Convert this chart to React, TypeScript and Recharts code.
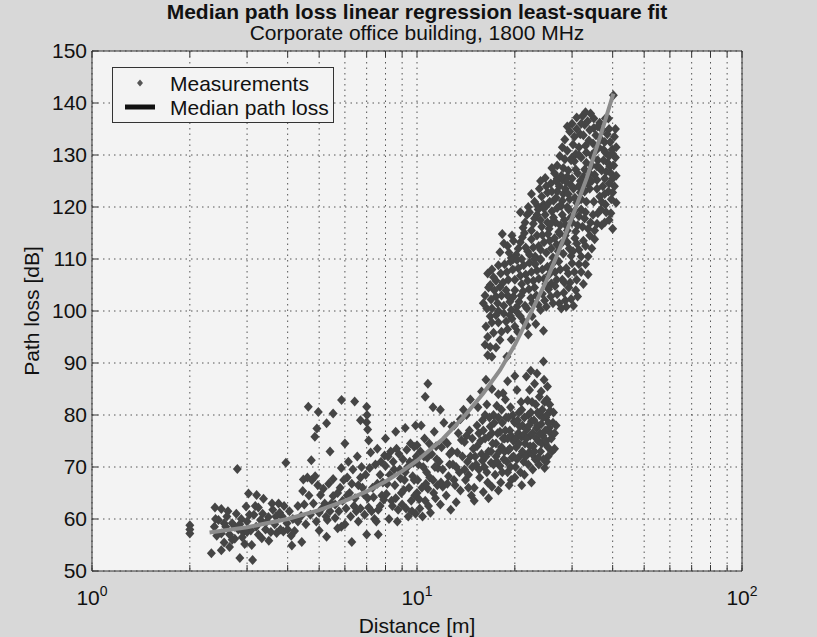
import { CartesianGrid, Legend, Scatter, ScatterChart, XAxis, YAxis } from "recharts"

const nearField: [number, number][] = [
  [2.0, 58.8], [2.0, 57.2], [2.0, 58.0], [2.33, 53.4], [2.39, 62.2], [2.5, 61.9], [2.38, 58.5], [2.42, 56.8],
  [2.45, 59.8], [2.5, 57.2], [2.55, 55.5], [2.58, 58.5], [2.6, 60.5], [2.65, 57.0], [2.65, 54.6], [2.7, 59.2],
  [2.75, 56.2], [2.78, 61.0], [2.8, 69.6], [2.82, 58.0], [2.85, 52.5], [2.88, 60.0], [2.92, 57.5], [2.95, 55.2],
  [2.98, 62.4], [3.0, 59.5], [3.03, 64.9], [3.08, 57.8], [3.12, 52.1], [3.15, 60.8], [3.2, 58.5], [3.21, 64.6],
  [3.25, 62.2], [3.3, 59.8], [3.33, 56.3], [3.37, 63.9], [3.42, 58.0], [3.49, 60.4], [3.55, 57.5], [3.6, 61.8],
  [3.65, 59.0], [3.7, 57.3], [3.75, 63.0], [3.8, 58.0], [3.85, 60.5], [3.88, 57.6], [3.95, 70.8], [3.98, 59.2],
  [4.05, 61.5], [4.1, 56.8],
  [2.4, 60.0], [2.5, 54.0], [2.55, 59.2], [2.62, 61.5], [2.7, 56.0], [2.75, 58.5], [2.85, 59.0], [2.9, 56.5],
  [3.0, 57.5], [3.05, 60.8], [3.1, 55.0], [3.18, 62.5], [3.25, 57.0], [3.35, 61.0], [3.45, 59.5], [3.5, 55.8],
  [3.58, 63.0], [3.68, 60.5], [3.78, 61.2], [3.9, 62.5], [4.0, 58.0], [4.15, 60.0],
]

const midRange: [number, number][] = [
  [4.2, 57.7], [4.12, 54.9], [4.42, 55.6], [4.4, 60.6], [4.3, 62.5], [4.45, 65.4], [4.47, 67.6], [4.6, 68.0],
  [4.75, 67.5], [4.86, 68.2], [4.73, 71.3], [4.63, 81.6], [4.97, 80.6], [4.92, 77.4], [4.85, 75.8], [5.27, 78.4],
  [5.52, 80.3], [5.86, 82.9], [6.43, 82.6], [7.0, 81.6], [7.02, 80.0], [7.0, 78.6], [6.7, 79.0], [7.05, 77.2],
  [7.1, 75.1], [4.55, 59.0], [4.7, 60.8], [4.9, 59.5], [5.0, 61.2], [5.05, 64.6], [5.1, 62.0], [5.2, 63.0],
  [5.27, 56.6], [5.3, 59.8], [5.4, 61.5], [5.52, 64.4], [5.52, 67.7], [5.6, 62.8], [5.7, 58.2], [5.8, 66.0],
  [5.85, 69.8], [5.9, 63.5], [5.95, 67.5], [6.0, 59.0], [6.1, 68.0], [6.15, 71.0], [6.2, 65.0], [6.3, 55.6],
  [6.35, 69.5], [6.4, 62.5], [6.5, 61.5], [6.55, 72.0], [6.6, 66.5], [6.7, 62.0], [6.75, 70.0], [6.85, 64.8],
  [6.95, 68.5], [7.0, 57.0], [7.1, 62.2], [7.2, 72.8], [7.3, 66.0], [7.4, 60.0], [7.5, 59.5], [7.55, 73.5],
  [7.6, 57.0], [7.6, 61.8], [7.7, 68.5], [7.8, 64.5], [7.9, 63.7], [7.95, 72.2], [8.0, 70.2], [8.1, 66.8],
  [8.2, 60.0], [8.3, 73.0], [8.4, 62.5], [8.5, 69.5], [8.6, 64.0], [8.7, 59.5], [8.8, 72.5], [8.9, 67.8],
  [9.0, 62.8], [9.1, 65.6], [9.2, 69.0], [9.3, 73.3], [9.4, 60.5], [9.5, 71.0], [9.6, 63.5], [9.7, 68.2],
  [9.8, 67.5], [9.8, 73.9], [9.9, 61.0], [10.0, 65.0], [10.0, 74.2], [10.1, 70.5], [8.0, 75.5], [8.6, 76.8],
  [9.2, 77.5], [9.9, 78.0], [6.0, 74.5], [5.4, 73.0],
  [4.3, 59.5], [4.5, 62.8], [4.65, 64.5], [4.8, 63.0], [4.95, 66.5], [5.0, 57.8], [5.15, 65.8], [5.25, 60.5],
  [5.35, 66.8], [5.45, 63.0], [5.6, 60.2], [5.7, 65.0], [5.75, 61.5], [5.85, 58.5], [6.05, 62.0], [6.1, 64.5],
  [6.25, 60.5], [6.3, 66.8], [6.45, 64.0], [6.6, 59.5], [6.7, 68.0], [6.8, 66.0], [6.9, 60.8], [7.05, 64.0],
  [7.15, 69.8], [7.25, 61.5], [7.35, 64.2], [7.45, 70.5], [7.55, 66.8], [7.7, 62.5], [7.75, 71.0], [7.85, 67.0],
  [8.05, 64.8], [8.15, 72.0], [8.25, 68.5], [8.35, 63.5], [8.45, 71.0], [8.55, 66.5], [8.65, 73.5], [8.75, 61.8],
  [8.85, 69.5], [8.95, 65.0], [9.05, 71.5], [9.15, 67.5], [9.25, 62.0], [9.35, 70.0], [9.45, 66.0], [9.55, 74.5],
  [9.65, 61.5], [9.75, 70.8], [9.85, 64.5], [9.95, 72.0],
]

const lowerBranch: [number, number][] = [
  [10.2, 62.0], [10.4, 60.5], [10.6, 63.5], [10.8, 65.8], [11.0, 61.2], [11.2, 67.5], [11.4, 64.0], [11.6, 69.8],
  [11.8, 62.8], [12.0, 66.2], [10.5, 72.0], [10.9, 74.5], [11.3, 76.8], [11.5, 71.5], [11.9, 73.8], [10.6, 83.5],
  [10.8, 86.0], [11.2, 81.5], [11.8, 81.0], [10.3, 78.0], [10.7, 69.0], [12.1, 78.5],
  [10.05, 67.5], [10.15, 63.8], [10.25, 73.0], [10.35, 66.0], [10.45, 70.0], [10.55, 75.5], [10.65, 66.8],
  [10.75, 71.8], [10.85, 62.5], [10.95, 68.0], [11.1, 72.5], [11.25, 65.0], [11.35, 70.0], [11.45, 74.0],
  [11.55, 66.5], [11.7, 71.0], [11.85, 67.0], [12.0, 69.5], [12.2, 75.0], [12.4, 66.8], [12.6, 70.5], [12.8, 73.0],
  [13.0, 67.5], [13.2, 70.0], [13.4, 76.5], [13.6, 65.5], [13.8, 72.0], [14.0, 69.5], [14.2, 76.0], [14.4, 66.0],
  [14.6, 72.0], [14.8, 75.5],
  [12.3, 64.5], [12.5, 68.2], [12.7, 61.8], [12.9, 70.5], [13.1, 66.5], [13.3, 72.8], [13.5, 69.0], [13.7, 75.2],
  [13.9, 81.0], [14.1, 67.5], [14.3, 71.0], [14.5, 77.0], [14.7, 64.5], [14.9, 73.5], [12.4, 74.5], [12.8, 77.8],
  [13.2, 63.2], [13.6, 79.2], [14.0, 74.8], [14.4, 68.5], [14.8, 70.0], [15.0, 66.0], [12.6, 72.5],
  [15.2, 70.5], [15.3, 74.0], [15.5, 76.5], [15.6, 68.0], [15.8, 72.5], [15.9, 79.0], [16.1, 70.0], [16.2, 75.5],
  [16.4, 82.0], [16.5, 67.0], [16.6, 73.0], [16.8, 77.8], [16.9, 70.8], [17.1, 74.5], [17.2, 80.0], [17.4, 68.5],
  [17.5, 72.0], [17.7, 76.5], [17.8, 84.0], [18.0, 70.2], [18.2, 73.8], [18.3, 78.5], [16.0, 65.2], [17.0, 66.2],
  [18.1, 67.0], [15.4, 81.5], [16.3, 86.8], [17.6, 81.8], [18.4, 84.2],
  [18.5, 71.5], [18.6, 75.5], [18.8, 79.5], [19.0, 69.0], [19.1, 73.2], [19.3, 77.0], [19.4, 81.5], [19.6, 71.8],
  [19.8, 75.0], [19.9, 78.8], [20.1, 70.0], [20.2, 73.8], [20.3, 84.8], [20.5, 76.5], [20.6, 80.5], [20.8, 72.2],
  [21.0, 75.8], [21.1, 78.0], [19.2, 66.5], [20.0, 68.0], [20.9, 82.5], [18.7, 83.0],
  [21.3, 71.0], [21.5, 74.5], [21.7, 87.4], [21.8, 77.2], [22.0, 80.0], [22.1, 72.8], [22.3, 76.0], [22.5, 78.8],
  [22.6, 82.5], [22.8, 74.0], [23.0, 86.0], [23.1, 71.5], [23.3, 77.5], [23.5, 80.5], [23.6, 75.0], [23.8, 83.5],
  [24.0, 73.0], [24.1, 78.2], [21.4, 68.5], [22.7, 69.5], [23.7, 70.5], [22.2, 84.8],
  [24.3, 81.0], [24.5, 90.3], [24.4, 76.0], [24.6, 86.8], [24.8, 74.5], [24.9, 79.5], [25.1, 83.0], [25.3, 72.0],
  [25.5, 77.5], [25.7, 80.8], [25.9, 75.5], [26.2, 78.5], [26.5, 73.5], [24.7, 69.8], [25.2, 85.5], [25.0, 71.0],
  [15.1, 72.0], [15.3, 78.0], [15.5, 69.5], [15.7, 75.0], [15.9, 71.2], [16.0, 77.0], [16.2, 80.0], [16.3, 72.0],
  [16.4, 69.0], [16.6, 75.8], [16.7, 79.5], [16.9, 73.0], [17.0, 76.5], [17.2, 70.5], [17.3, 78.5], [17.5, 74.5],
  [17.6, 71.0], [17.8, 79.5], [17.9, 73.0], [18.0, 76.8], [18.2, 81.0], [18.3, 69.0], [18.4, 75.5], [18.6, 73.0],
  [18.7, 77.0], [18.9, 71.0], [19.0, 75.5], [19.1, 79.5], [19.3, 73.5], [19.4, 70.0], [19.5, 76.0], [19.7, 80.0],
  [19.8, 72.0], [20.0, 78.5], [20.1, 75.5], [20.3, 71.5], [20.4, 79.0], [20.6, 74.5], [20.7, 77.8], [20.8, 69.0],
  [21.0, 81.0], [21.1, 73.0], [21.3, 76.2], [21.4, 79.5], [21.6, 72.0], [21.7, 75.5], [21.9, 82.8], [22.0, 70.5],
  [22.1, 78.0], [22.3, 74.0], [22.4, 80.5], [22.6, 72.5], [22.7, 76.5], [22.9, 79.0], [23.0, 73.0], [23.2, 82.0],
  [23.3, 75.5], [23.5, 78.0], [23.6, 71.8], [23.8, 80.0], [23.9, 76.5], [24.1, 84.5], [24.2, 74.5], [24.4, 79.5],
  [24.5, 71.5], [24.7, 82.5], [24.8, 77.0], [25.0, 75.0], [25.1, 80.0], [25.3, 73.8], [25.4, 78.5], [25.6, 82.0],
  [25.8, 76.5], [26.0, 73.0], [26.3, 80.5], [26.5, 76.5], [26.8, 78.0], [15.0, 63.5], [16.6, 64.0], [17.8, 65.5],
  [19.5, 67.5], [21.0, 66.5], [22.5, 67.0], [13.0, 78.0], [14.2, 80.0], [14.6, 83.0], [15.8, 84.5], [17.0, 85.0],
  [19.0, 86.5], [20.0, 87.5], [22.4, 88.5], [23.4, 88.0],
]

const upperBranch: [number, number][] = [
  [40.2, 141.5], [31.0, 137.2], [32.3, 137.5], [33.5, 136.5], [35.0, 137.0], [36.5, 136.2], [38.0, 137.0],
  [30.0, 136.0], [34.2, 138.0], [29.0, 135.5], [30.5, 133.5], [31.8, 134.0], [32.8, 135.8], [33.0, 131.8],
  [34.5, 130.0], [35.5, 133.8], [36.2, 131.5], [37.2, 134.8], [37.8, 132.5], [39.0, 135.0], [39.8, 131.0],
  [40.8, 135.0], [28.0, 131.5], [30.0, 129.5], [35.0, 135.2], [33.0, 138.2], [38.8, 137.0],
  [28.5, 133.0], [29.5, 134.5], [30.2, 132.0], [31.0, 135.0], [31.5, 131.5], [32.5, 133.8], [33.2, 130.5],
  [34.0, 134.8], [34.8, 132.2], [35.5, 130.8], [36.8, 133.0], [37.5, 131.0], [38.5, 134.0], [39.3, 132.5],
  [40.5, 133.5], [41.0, 131.5], [29.0, 130.8], [30.8, 130.2], [32.0, 136.0], [33.8, 132.8], [36.0, 135.5],
  [38.0, 130.5], [40.0, 130.2],
  [24.8, 125.6], [27.0, 128.0], [27.8, 126.0], [28.5, 129.2], [29.2, 127.0], [30.0, 125.5], [30.5, 128.8],
  [31.2, 126.5], [32.0, 129.5], [32.8, 127.2], [33.5, 125.8], [34.5, 128.0], [35.2, 126.2], [36.0, 129.0],
  [37.0, 127.0], [37.8, 125.5], [38.6, 128.5], [39.5, 126.5], [40.3, 128.0], [41.0, 126.0], [28.0, 125.2],
  [31.8, 125.0], [35.8, 127.8], [26.5, 126.5], [39.0, 129.8],
  [27.5, 129.8], [28.2, 127.5], [29.0, 125.8], [29.8, 129.0], [30.8, 127.2], [31.5, 130.0], [32.5, 125.8],
  [33.2, 128.5], [34.0, 126.5], [34.8, 129.5], [35.8, 125.2], [36.5, 127.5], [37.5, 129.0], [38.2, 126.8],
  [39.2, 127.8], [40.0, 125.5], [40.8, 129.5], [26.0, 127.5], [27.0, 125.5],
  [23.0, 121.0], [23.8, 123.5], [24.5, 120.5], [25.2, 122.8], [25.8, 124.5], [26.3, 121.2], [27.0, 123.0],
  [27.6, 120.3], [28.2, 122.5], [28.8, 124.8], [29.5, 121.5], [30.3, 123.5], [31.0, 120.8], [31.8, 122.8],
  [32.5, 124.2], [33.2, 121.0], [36.5, 122.0], [37.3, 124.0], [38.0, 120.5], [38.8, 123.0], [39.6, 121.5],
  [40.5, 124.0], [41.0, 120.8], [24.0, 125.0], [26.8, 125.0], [29.0, 120.0], [34.0, 123.5],
  [23.5, 120.2], [24.2, 122.0], [25.0, 124.0], [25.6, 121.0], [26.0, 123.0], [26.8, 121.8], [27.4, 124.0],
  [28.0, 121.2], [28.6, 123.5], [29.2, 122.5], [29.8, 124.2], [30.6, 121.8], [31.4, 124.0], [32.0, 121.5],
  [32.8, 123.0], [33.5, 124.5], [35.0, 121.0], [35.8, 123.5], [37.0, 121.0], [37.8, 122.5], [39.0, 124.5],
  [40.0, 122.8], [22.5, 122.5], [34.5, 125.0],
  [21.2, 116.0], [21.8, 118.5], [22.5, 115.5], [23.0, 117.8], [23.6, 119.5], [24.2, 116.2], [24.8, 118.5],
  [25.5, 115.8], [26.0, 119.2], [26.7, 117.0], [27.3, 115.2], [28.0, 118.5], [28.7, 116.5], [29.3, 119.5],
  [30.0, 117.0], [30.8, 115.3], [31.5, 118.2], [32.3, 116.2], [33.0, 119.0], [34.2, 117.0], [35.2, 115.5],
  [36.0, 118.8], [37.0, 116.5], [38.2, 119.0], [39.0, 117.5], [40.0, 115.8], [22.0, 120.0], [25.0, 120.2],
  [27.8, 120.2],
  [21.5, 117.0], [22.2, 119.0], [22.8, 116.8], [23.4, 118.5], [24.0, 117.5], [24.5, 119.8], [25.2, 117.0],
  [25.8, 116.8], [26.3, 118.0], [27.0, 119.8], [27.6, 116.5], [28.4, 117.5], [29.0, 115.5], [29.7, 118.0],
  [30.5, 119.2], [31.2, 116.5], [32.0, 119.5], [32.8, 117.8], [33.6, 115.8], [34.8, 118.5], [35.8, 116.8],
  [36.8, 119.5], [37.8, 117.0], [39.5, 118.8], [20.8, 119.0],
  [18.0, 111.3], [19.0, 112.5], [19.6, 114.5], [20.2, 110.8], [20.8, 113.2], [21.4, 115.0], [21.9, 111.5],
  [22.5, 113.8], [23.1, 110.5], [23.7, 112.5], [24.3, 114.6], [25.0, 111.2], [25.6, 113.5], [26.2, 110.3],
  [26.9, 112.8], [27.5, 114.8], [28.2, 111.0], [29.0, 113.2], [29.8, 110.6], [30.6, 114.0], [31.5, 111.8],
  [32.5, 113.5], [33.6, 110.5], [34.5, 112.0], [19.5, 110.2], [21.0, 110.0], [24.0, 110.0],
  [18.5, 113.0], [19.2, 111.2], [19.8, 113.5], [20.5, 112.0], [21.1, 114.2], [21.6, 112.2], [22.2, 110.8],
  [22.8, 112.2], [23.4, 114.5], [24.0, 111.8], [24.6, 113.2], [25.3, 114.8], [25.9, 112.0], [26.5, 114.0],
  [27.2, 111.5], [27.8, 113.0], [28.6, 114.5], [29.4, 112.0], [30.2, 111.5], [31.0, 113.0], [32.0, 110.5],
  [33.0, 112.5], [34.0, 114.5], [18.3, 114.8], [35.2, 113.8],
  [17.2, 106.5], [17.8, 108.8], [18.4, 105.5], [18.9, 107.5], [19.4, 109.5], [20.0, 106.0], [20.5, 108.2],
  [21.0, 105.2], [21.6, 107.0], [22.2, 109.3], [22.8, 105.8], [23.4, 107.8], [24.0, 109.8], [24.6, 106.2],
  [25.2, 108.5], [25.9, 105.3], [26.6, 107.5], [27.3, 109.5], [28.0, 106.0], [28.8, 108.2], [29.6, 105.5],
  [30.5, 107.5], [31.5, 109.0], [33.6, 107.0], [32.5, 105.2], [16.8, 105.0], [19.8, 110.0], [23.0, 110.0],
  [17.0, 108.0], [17.5, 105.8], [18.1, 107.2], [18.6, 109.0], [19.1, 106.0], [19.7, 108.0], [20.3, 109.8],
  [20.8, 106.8], [21.3, 108.8], [21.9, 105.8], [22.5, 107.5], [23.1, 109.0], [23.7, 106.2], [24.3, 108.0],
  [24.9, 105.2], [25.5, 107.0], [26.2, 109.2], [26.9, 106.0], [27.6, 108.0], [28.4, 105.5], [29.2, 107.2],
  [30.0, 109.2], [31.0, 106.0], [32.0, 107.5], [16.5, 107.2], [33.0, 109.0],
  [16.0, 101.5], [16.2, 103.0], [16.6, 104.5], [17.0, 100.5], [17.5, 102.8], [18.0, 104.6], [18.5, 101.0],
  [19.0, 103.0], [19.5, 100.2], [20.0, 104.0], [20.6, 101.8], [21.2, 103.8], [21.8, 100.5], [22.4, 102.5],
  [23.0, 104.5], [23.6, 101.2], [24.3, 103.3], [25.0, 100.8], [25.8, 102.8], [26.6, 104.8], [27.4, 101.5],
  [28.3, 103.5], [28.8, 100.8], [29.8, 102.3], [30.8, 104.0], [17.8, 100.0], [20.3, 99.8],
  [16.4, 100.5], [16.9, 102.2], [17.3, 104.0], [17.7, 101.5], [18.2, 103.0], [18.8, 104.0], [19.3, 101.8],
  [19.8, 102.8], [20.3, 100.8], [20.9, 103.0], [21.5, 101.0], [22.1, 104.2], [22.7, 101.5], [23.3, 103.0],
  [24.0, 100.2], [24.7, 102.0], [25.4, 104.2], [26.2, 101.5], [27.0, 103.2], [27.8, 100.5], [28.6, 102.0],
  [29.3, 104.5], [30.3, 101.0], [31.2, 102.8],
  [16.3, 97.0], [16.8, 99.0], [17.2, 95.8], [17.8, 97.8], [18.5, 99.5], [19.0, 96.5], [19.6, 98.5],
  [20.4, 96.0], [21.3, 98.0], [22.0, 95.5], [23.2, 97.5], [24.5, 96.2], [18.0, 94.4],
  [16.5, 95.0], [17.0, 97.8], [17.5, 99.2], [18.2, 96.0], [18.8, 98.0], [19.3, 99.2], [20.0, 97.0],
  [20.8, 99.0], [21.8, 97.2], [22.6, 99.0], [16.2, 93.5], [17.5, 93.0], [19.5, 94.5],
  [16.8, 93.1], [16.5, 91.5], [17.0, 91.2], [18.9, 91.2],
]

// Least-squares fit
const fitDistance = [2.3, 3, 4, 5, 6, 7, 8, 9, 10, 12, 14, 16, 18, 20, 22.3, 25, 27.5, 30, 33.3, 36.6, 40.2]
const fitLoss = [57.4, 58.4, 60.0, 61.7, 63.5, 65.3, 67.2, 69.2, 71.2, 75.4, 79.8, 84.2, 88.6, 93.5, 99.4, 105.8, 112.0, 118.0, 125.6, 133.5, 141.8]

const xTicks = [1, 2, 3, 4, 5, 6, 7, 8, 9, 10, 20, 30, 40, 50, 60, 70, 80, 90, 100]
const yTicks = [50, 60, 70, 80, 90, 100, 110, 120, 130, 140, 150]

const measurements = [...nearField, ...midRange, ...lowerBranch, ...upperBranch].map(([distance, loss]) => ({
  distance,
  loss,
}))
const fit = fitDistance.map((distance, i) => ({ distance, loss: fitLoss[i] }))

const INK = "#111"
const FONT = "'Liberation Sans', Arial, Helvetica, sans-serif"

function Diamond(props: any) {
  const { cx, cy } = props
  if (cx == null || cy == null) return <g />
  return (
    <polygon
      points={`${cx},${cy - 5} ${cx + 4.5},${cy} ${cx},${cy + 5} ${cx - 4.5},${cy}`}
      fill="#454545"
    />
  )
}

function DecadeTick({ x, y, payload }: any) {
  const exp = Math.round(Math.log10(payload.value))
  if (Math.abs(Math.log10(payload.value) - exp) > 1e-9) return <g />
  return (
    <text x={x} y={y + 40} textAnchor="middle" fontSize={21} fill={INK}>
      10
      <tspan dy={-9} fontSize={14}>
        {exp}
      </tspan>
    </text>
  )
}

function LegendBox() {
  return (
    <svg width={222} height={56} style={{ display: "block" }}>
      <rect x={0.5} y={0.5} width={221} height={55} fill="#f3f3f3" stroke="#333" />
      <polygon points="28,12.5 31,16 28,19.5 25,16" fill="#555" />
      <line x1={13} x2={43} y1={40} y2={40} stroke={INK} strokeWidth={5} />
      <text x={58} y={16} dy="0.36em" fontSize={21} fill={INK}>
        Measurements
      </text>
      <text x={58} y={40} dy="0.36em" fontSize={21} fill={INK}>
        Median path loss
      </text>
    </svg>
  )
}

export default function App() {
  return (
    <div
      style={{
        position: "fixed",
        left: 0,
        top: 0,
        width: 817,
        height: 637,
        background: "#d8d8d8",
        fontFamily: FONT,
        color: INK,
      }}
    >
      <div
        style={{
          position: "absolute",
          left: 0,
          width: 834,
          top: 1,
          textAlign: "center",
          fontSize: 21,
          lineHeight: "21px",
          fontWeight: "bold",
        }}
      >
        Median path loss linear regression least-square fit
      </div>
      <div
        style={{
          position: "absolute",
          left: 0,
          width: 834,
          top: 22,
          textAlign: "center",
          fontSize: 21,
          lineHeight: "21px",
        }}
      >
        Corporate office building, 1800 MHz
      </div>
      <div style={{ position: "absolute", left: 0, top: 0 }}>
        <ScatterChart width={817} height={637} margin={{ top: 50, right: 74, bottom: 0, left: 0 }}>
          <CartesianGrid fill="#f3f3f3" stroke="#555" strokeDasharray="1.5 4" />
          <XAxis
            dataKey="distance"
            type="number"
            scale="log"
            domain={[1, 100]}
            ticks={xTicks}
            allowDataOverflow
            height={66}
            tickSize={-6}
            tickMargin={0}
            tick={<DecadeTick />}
            stroke="#333"
            interval={0}
            label={{ value: "Distance [m]", position: "insideBottom", offset: 4, fontSize: 21, fill: INK }}
          />
          <XAxis
            xAxisId="top"
            orientation="top"
            dataKey="distance"
            type="number"
            scale="log"
            domain={[1, 100]}
            ticks={xTicks}
            allowDataOverflow
            height={1}
            tickSize={-6}
            tick={() => <g />}
            stroke="#333"
            interval={0}
          />
          <YAxis
            dataKey="loss"
            type="number"
            domain={[50, 150]}
            ticks={yTicks}
            width={92}
            tickSize={-6}
            tickMargin={11}
            tick={{ fontSize: 21, fill: INK }}
            stroke="#333"
            interval={0}
            label={{
              value: "Path loss [dB]",
              angle: -90,
              position: "insideLeft",
              offset: 32,
              fontSize: 21,
              fill: INK,
              style: { textAnchor: "middle" },
            }}
          />
          <YAxis
            yAxisId="right"
            orientation="right"
            dataKey="loss"
            type="number"
            domain={[50, 150]}
            ticks={yTicks}
            width={1}
            tickSize={-6}
            tick={() => <g />}
            stroke="#333"
            interval={0}
          />
          <Legend
            layout="vertical"
            align="center"
            verticalAlign="middle"
            content={() => <LegendBox />}
            wrapperStyle={{ left: 112, top: 67, width: 222, height: 56 }}
          />
          <Scatter name="Measurements" data={measurements} shape={<Diamond />} isAnimationActive={false} />
          <Scatter
            name="Median path loss"
            data={fit}
            line={{ stroke: "#8c8c8c", strokeWidth: 4 }}
            shape={() => <g />}
            isAnimationActive={false}
          />
        </ScatterChart>
      </div>
    </div>
  )
}
